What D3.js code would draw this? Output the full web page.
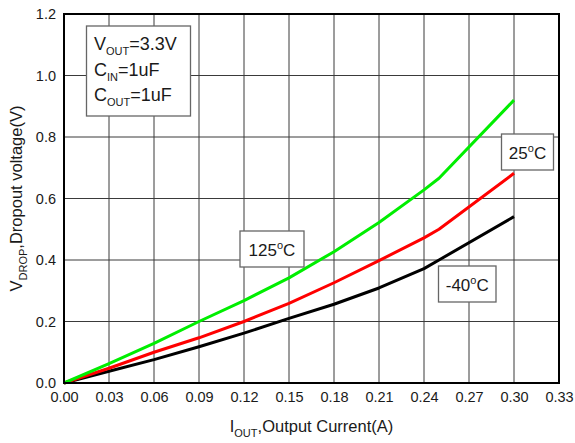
<!DOCTYPE html>
<html>
<head>
<meta charset="utf-8">
<script src="https://cdn.jsdelivr.net/npm/d3@7"></script>
<style>
  body { margin: 0; background: #fff; }
  text { font-family: "Liberation Sans", Arial, sans-serif; fill: #1a1a1a; }
</style>
</head>
<body>
<script>
// values
const xTicks = [0, 0.03, 0.06, 0.09, 0.12, 0.15, 0.18, 0.21, 0.24, 0.27, 0.30, 0.33];
const yTicks = [0, 0.2, 0.4, 0.6, 0.8, 1.0, 1.2];

const current = [0, 0.03, 0.06, 0.09, 0.12, 0.15, 0.18, 0.21, 0.24, 0.25, 0.30];
const v125 = [0, 0.063, 0.129, 0.200, 0.268, 0.342, 0.427, 0.522, 0.628, 0.666, 0.920];
const v25  = [0, 0.048, 0.100, 0.147, 0.200, 0.259, 0.326, 0.398, 0.472, 0.500, 0.682];
const vm40 = [0, 0.038, 0.076, 0.118, 0.162, 0.210, 0.256, 0.309, 0.372, 0.400, 0.541];

const series = [
  {name: "125", color: "#00ee00", values: v125},
  {name: "25", color: "#ff0000", values: v25},
  {name: "-40", color: "#000000", values: vm40}
];

const W = 575, H = 443;
const margin = {left: 64, top: 14, right: 16, bottom: 60};
const width = W - margin.left - margin.right;
const height = H - margin.top - margin.bottom;

const svg = d3.select("body").append("svg").attr("width", W).attr("height", H);
const g = svg.append("g").attr("transform", `translate(${margin.left},${margin.top})`);

const x = d3.scaleLinear().domain([0, 0.33]).range([0, width]);
const y = d3.scaleLinear().domain([0, 1.2]).range([height, 0]);

// grid
g.append("g").selectAll("line").data(xTicks.slice(1, -1)).enter().append("line")
  .attr("x1", d => x(d)).attr("x2", d => x(d)).attr("y1", 0).attr("y2", height)
  .attr("stroke", "#3a3a3a").attr("stroke-width", 1);
g.append("g").selectAll("line").data(yTicks.slice(1, -1)).enter().append("line")
  .attr("y1", d => y(d)).attr("y2", d => y(d)).attr("x1", 0).attr("x2", width)
  .attr("stroke", "#3a3a3a").attr("stroke-width", 1);

// axes (labels only)
const xAxis = g.append("g").attr("transform", `translate(0,${height})`)
  .call(d3.axisBottom(x).tickValues(xTicks).tickFormat(d3.format(".2f")).tickSize(0).tickPadding(9));
const yAxis = g.append("g")
  .call(d3.axisLeft(y).tickValues(yTicks).tickFormat(d3.format(".1f")).tickSize(0).tickPadding(8));
[xAxis, yAxis].forEach(a => {
  a.select(".domain").remove();
  a.selectAll("text").attr("font-size", 14.5).attr("fill", "#1a1a1a")
    .attr("font-family", "Liberation Sans, Arial, sans-serif");
});

// curves
const line = d3.line().x((d, i) => x(current[i])).y(d => y(d));
g.append("g").selectAll("path").data(series.slice().reverse()).enter().append("path")
  .attr("d", d => line(d.values)).attr("fill", "none")
  .attr("stroke", d => d.color).attr("stroke-width", 3).attr("stroke-linejoin", "round");

// frame
g.append("rect").attr("width", width).attr("height", height)
  .attr("fill", "none").attr("stroke", "#000").attr("stroke-width", 2);

// condition box
const box = svg.append("g");
box.append("rect").attr("x", 86.5).attr("y", 26).attr("width", 104).attr("height", 90)
  .attr("fill", "#fff").attr("stroke", "#666").attr("stroke-width", 1.3);
const cond = [["V", "OUT", "=3.3V", 50], ["C", "IN", "=1uF", 75.5], ["C", "OUT", "=1uF", 101]];
cond.forEach(c => {
  const t = box.append("text").attr("x", 94).attr("y", c[3]).attr("font-size", 18);
  t.append("tspan").text(c[0]);
  t.append("tspan").attr("font-size", 11).attr("dy", 5).text(c[1]);
  t.append("tspan").attr("dy", -5).text(c[2]);
});

// temperature labels
const tempLabels = [
  {t: "125", x: 240, y: 231, w: 64, h: 36},
  {t: "25", x: 501.5, y: 134, w: 52, h: 36},
  {t: "-40", x: 438.5, y: 266, w: 57.5, h: 36}
];
tempLabels.forEach(l => {
  const gg = svg.append("g");
  gg.append("rect").attr("x", l.x).attr("y", l.y).attr("width", l.w).attr("height", l.h)
    .attr("fill", "#fff").attr("stroke", "#666").attr("stroke-width", 1.3);
  const t = gg.append("text").attr("x", l.x + l.w / 2).attr("y", l.y + 24.5)
    .attr("text-anchor", "middle").attr("font-size", 17);
  t.append("tspan").text(l.t);
  t.append("tspan").attr("font-size", 11).attr("dy", -7).text("o");
  t.append("tspan").attr("dy", 7).text("C");
});

// axis titles
const xt = svg.append("text").attr("x", margin.left + width / 2 + 0).attr("y", 432)
  .attr("text-anchor", "middle").attr("font-size", 16.5);
xt.append("tspan").text("I");
xt.append("tspan").attr("font-size", 11).attr("dy", 5).text("OUT");
xt.append("tspan").attr("dy", -5).text(",Output Current(A)");

const yt = svg.append("text").attr("transform", `translate(22,${margin.top + height / 2}) rotate(-90)`)
  .attr("text-anchor", "middle").attr("font-size", 16.5);
yt.append("tspan").text("V");
yt.append("tspan").attr("font-size", 11).attr("dy", 5).text("DROP");
yt.append("tspan").attr("dy", -5).text(",Dropout voltage(V)");
</script>
</body>
</html>
